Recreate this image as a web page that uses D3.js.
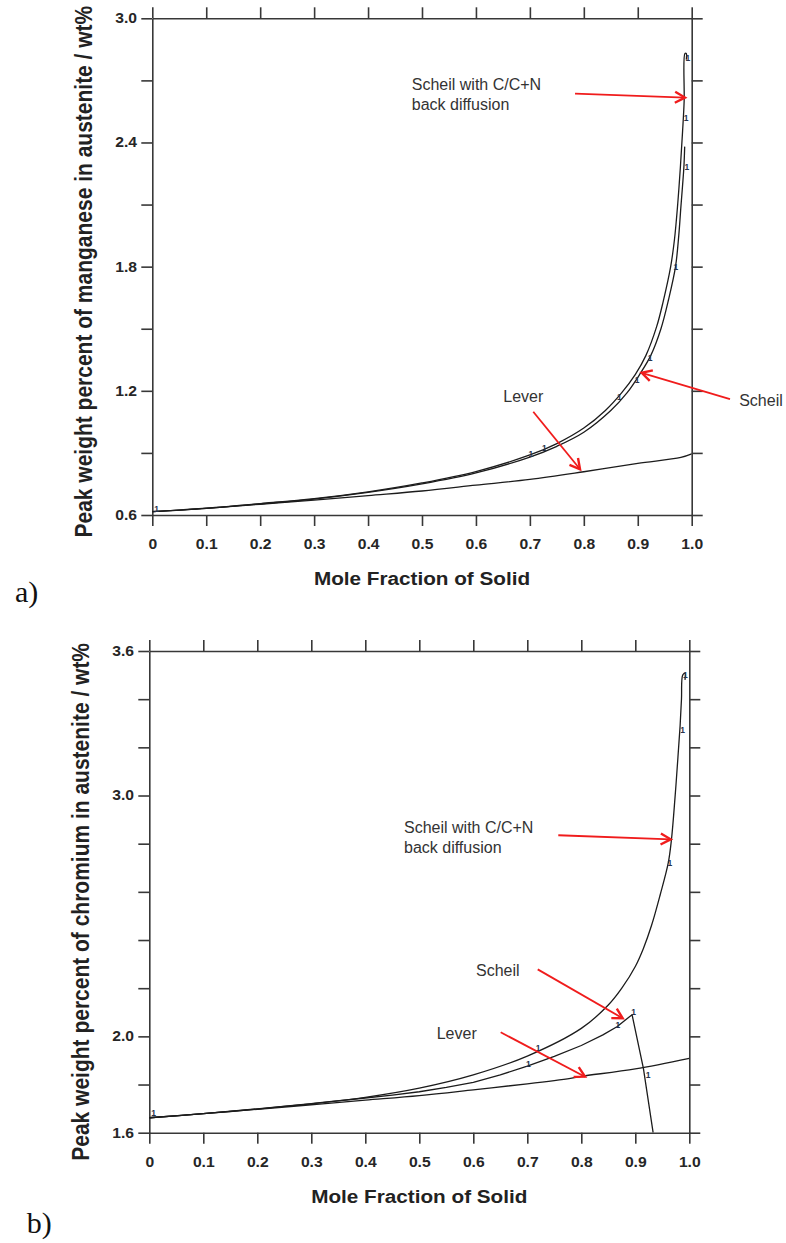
<!DOCTYPE html>
<html>
<head>
<meta charset="utf-8">
<script src="https://cdn.jsdelivr.net/npm/d3@7"></script>
<style>
  html, body { margin: 0; padding: 0; background: #fff; }
  svg { display: block; }
</style>
</head>
<body>
<svg id="fig" width="786" height="1243"></svg>
<script>
// ---- shared axis values ----
const fractionTicks = [0, 0.1, 0.2, 0.3, 0.4, 0.5, 0.6, 0.7, 0.8, 0.9, 1.0];
const fractionTickLabels = ["0", "0.1", "0.2", "0.3", "0.4", "0.5", "0.6", "0.7", "0.8", "0.9", "1.0"];

// ---- a) manganese ----
const mnTicks = [0.6, 0.9, 1.2, 1.5, 1.8, 2.1, 2.4, 2.7, 3.0];
const mnTickLabels = ["0.6", "", "1.2", "", "1.8", "", "2.4", "", "3.0"];
const mnLever = [[0, 0.616], [0.1, 0.632], [0.2, 0.652], [0.3, 0.672], [0.4, 0.694], [0.5, 0.716],
  [0.6, 0.744], [0.7, 0.772], [0.8, 0.809], [0.9, 0.849], [0.98, 0.878], [1.0, 0.895]];
const mnScheil = [[0, 0.616], [0.1, 0.632], [0.2, 0.654], [0.3, 0.677], [0.4, 0.709], [0.5, 0.75],
  [0.6, 0.803], [0.7, 0.88], [0.75, 0.932], [0.8, 1.0], [0.85, 1.105], [0.88, 1.19],
  [0.903, 1.277], [0.924, 1.37], [0.943, 1.50], [0.957, 1.64], [0.970, 1.80], [0.976, 1.95],
  [0.980, 2.09], [0.983, 2.19], [0.9855, 2.28], [0.987, 2.38]];
const mnScheilBack = [[0, 0.616], [0.1, 0.633], [0.2, 0.655], [0.3, 0.679], [0.4, 0.712], [0.5, 0.755],
  [0.6, 0.81], [0.7, 0.89], [0.75, 0.945], [0.8, 1.02], [0.84, 1.105], [0.87, 1.19],
  [0.895, 1.277], [0.915, 1.37], [0.935, 1.51], [0.947, 1.63], [0.961, 1.80], [0.968, 1.93],
  [0.974, 2.10], [0.979, 2.28], [0.983, 2.45], [0.986, 2.60], [0.9875, 2.83], [0.990, 2.83], [0.990, 2.80]];
const mnStepMarks = [[0.006, 0.628], [0.70, 0.897], [0.725, 0.925], [0.864, 1.17], [0.897, 1.25],
  [0.921, 1.36], [0.969, 1.80], [0.989, 2.28], [0.988, 2.52], [0.991, 2.81]];

// ---- b) chromium ----
const crTicks = [1.6, 1.8, 2.0, 2.2, 2.4, 2.6, 2.8, 3.0, 3.2, 3.4, 3.6];
const crTickLabels = ["1.6", "", "2.0", "", "", "", "", "3.0", "", "", "3.6"];
const crLever = [[0, 1.662], [0.1, 1.679], [0.2, 1.697], [0.3, 1.716], [0.4, 1.735], [0.5, 1.754],
  [0.6, 1.778], [0.7, 1.803], [0.78, 1.826], [0.8, 1.834], [0.9, 1.865], [1.0, 1.909]];
const crScheil = [[0, 1.662], [0.05, 1.670], [0.1, 1.679], [0.15, 1.688], [0.2, 1.698], [0.25, 1.709],
  [0.3, 1.72], [0.35, 1.732], [0.4, 1.744], [0.45, 1.756], [0.5, 1.77], [0.55, 1.788], [0.6, 1.809],
  [0.65, 1.84], [0.7, 1.876], [0.75, 1.917], [0.8, 1.962], [0.84, 2.006], [0.866, 2.04], [0.894, 2.09],
  [0.915, 1.867], [0.933, 1.6]];
const crScheilBack = [[0, 1.662], [0.1, 1.679], [0.2, 1.699], [0.3, 1.721], [0.4, 1.747], [0.5, 1.785],
  [0.6, 1.84], [0.7, 1.918], [0.8, 2.033], [0.85, 2.13], [0.875, 2.20], [0.9, 2.29], [0.915, 2.365],
  [0.93, 2.46], [0.946, 2.587], [0.961, 2.72], [0.967, 2.818], [0.9735, 2.99], [0.979, 3.16],
  [0.983, 3.29], [0.9855, 3.40], [0.9878, 3.50], [0.992, 3.507], [0.992, 3.48]];
const crStepMarks = [[0.006, 1.68], [0.70, 1.885], [0.718, 1.95], [0.866, 2.045], [0.895, 2.10],
  [0.922, 1.84], [0.962, 2.72], [0.986, 3.27], [0.991, 3.50]];

const yTitleMn = "Peak weight percent of manganese in austenite / wt%";
const yTitleCr = "Peak weight percent of chromium in austenite / wt%";
const xTitle = "Mole Fraction of Solid";

const svg = d3.select("#fig");
svg.append("rect").attr("width", 786).attr("height", 1243).attr("fill", "#fff");

const defs = svg.append("defs");
defs.append("marker")
  .attr("id", "redHead")
  .attr("viewBox", "-13 -8 16 16")
  .attr("markerUnits", "userSpaceOnUse")
  .attr("markerWidth", 16).attr("markerHeight", 16)
  .attr("refX", 0).attr("refY", 0)
  .attr("orient", "auto")
  .append("path")
  .attr("d", "M-10,-5.5 L0,0 L-10,5.5")
  .attr("fill", "none").attr("stroke", "#f01c1c")
  .attr("stroke-width", 2.4).attr("stroke-linejoin", "miter");

const SX = 1.12;            // horizontal stretch of the plot lettering
const AXIS_COL = "#383838";
const SANS = "'Liberation Sans', Arial, Helvetica, sans-serif";

function labelFor(values, labels) {
  return d => {
    const i = values.findIndex(v => Math.abs(v - d) < 1e-9);
    return i < 0 ? "" : labels[i];
  };
}

function drawChart(cfg) {
  const g = svg.append("g");
  const x = d3.scaleLinear().domain([0, 1]).range([cfg.left, cfg.right]);
  const y = d3.scaleLinear().domain([cfg.yTicks[0], cfg.yTicks[cfg.yTicks.length - 1]])
    .range([cfg.bottom, cfg.top]);

  const styleAxis = sel => {
    sel.selectAll(".domain").attr("stroke", AXIS_COL).attr("stroke-width", 1.6);
    sel.selectAll(".tick line").attr("stroke", AXIS_COL).attr("stroke-width", 1.6);
    sel.attr("font-family", SANS).attr("font-size", 14).attr("font-weight", "bold");
    sel.selectAll("text").attr("fill", "#262626").attr("transform", `scale(${SX},1)`);
  };

  g.append("g").attr("transform", `translate(0,${cfg.bottom})`)
    .call(d3.axisBottom(x).tickValues(fractionTicks)
      .tickFormat(labelFor(fractionTicks, fractionTickLabels))
      .tickSize(11).tickSizeOuter(0).tickPadding(13))
    .call(styleAxis);
  g.append("g").attr("transform", `translate(0,${cfg.top})`)
    .call(d3.axisTop(x).tickValues(fractionTicks).tickFormat(() => "")
      .tickSize(11).tickSizeOuter(0))
    .call(styleAxis);
  g.append("g").attr("transform", `translate(${cfg.left},0)`)
    .call(d3.axisLeft(y).tickValues(cfg.yTicks)
      .tickFormat(labelFor(cfg.yTicks, cfg.yTickLabels))
      .tickSize(11).tickSizeOuter(0).tickPadding(2.7))
    .call(styleAxis);
  g.append("g").attr("transform", `translate(${cfg.right},0)`)
    .call(d3.axisRight(y).tickValues(cfg.yTicks).tickFormat(() => "")
      .tickSize(11).tickSizeOuter(0))
    .call(styleAxis);

  // axis titles
  g.append("text")
    .attr("transform", `translate(${(cfg.left + cfg.right) / 2},${cfg.bottom + 70}) scale(${SX},1)`)
    .attr("text-anchor", "middle")
    .attr("font-family", SANS).attr("font-weight", "bold").attr("font-size", 18.5)
    .attr("fill", "#222").text(xTitle);
  g.append("text")
    .attr("transform", `translate(${cfg.left - 60},${(cfg.top + cfg.bottom) / 2 + cfg.yTitleShift}) scale(${SX},1) rotate(-90)`)
    .attr("text-anchor", "middle")
    .attr("font-family", SANS).attr("font-weight", "bold").attr("font-size", 21)
    .attr("fill", "#222").text(cfg.yTitle);

  // curves
  const clipId = "clip-" + cfg.id;
  defs.append("clipPath").attr("id", clipId).append("rect")
    .attr("x", cfg.left).attr("y", cfg.top)
    .attr("width", cfg.right - cfg.left).attr("height", cfg.bottom - cfg.top);
  const plot = g.append("g").attr("clip-path", `url(#${clipId})`);
  cfg.series.forEach(s => {
    const line = d3.line().x(d => x(d[0])).y(d => y(d[1]))
      .curve(s.sharp ? d3.curveLinear : d3.curveCatmullRom.alpha(0.5));
    plot.append("path").datum(s.data)
      .attr("d", line)
      .attr("fill", "none").attr("stroke", "#1c1c1c")
      .attr("stroke-width", 1.3).attr("stroke-linejoin", "round");
  });

  // small step labels along the calculated curves
  g.selectAll(null).data(cfg.marks).join("text")
    .attr("x", d => x(d[0]) + 1).attr("y", d => y(d[1]))
    .attr("dy", "0.35em").attr("text-anchor", "middle")
    .attr("font-family", SANS).attr("font-size", 8.5).attr("font-weight", "bold")
    .attr("fill", "#26324a").text("1");

  // annotations with red arrows
  cfg.notes.forEach(n => {
    const t = g.append("text")
      .attr("x", x(n.at[0])).attr("y", y(n.at[1]))
      .attr("font-family", SANS).attr("font-size", 16).attr("fill", "#333");
    n.lines.forEach((ln, i) => {
      t.append("tspan").attr("x", x(n.at[0])).attr("dy", i === 0 ? 0 : 20).text(ln);
    });
    g.append("line")
      .attr("x1", x(n.from[0])).attr("y1", y(n.from[1]))
      .attr("x2", x(n.to[0])).attr("y2", y(n.to[1]))
      .attr("stroke", "#f01c1c").attr("stroke-width", 1.8)
      .attr("marker-end", "url(#redHead)");
  });

  // panel letter
  svg.append("text")
    .attr("x", cfg.letterPos[0]).attr("y", cfg.letterPos[1])
    .attr("font-family", "'Liberation Serif', 'Times New Roman', serif")
    .attr("font-size", 30).attr("fill", "#111").text(cfg.letter);
}

drawChart({
  id: "mn", left: 152.3, right: 691.7, top: 18.3, bottom: 515,
  yTicks: mnTicks, yTickLabels: mnTickLabels, yTitle: yTitleMn, yTitleShift: 5,
  series: [{ data: mnLever }, { data: mnScheil }, { data: mnScheilBack }],
  marks: mnStepMarks,
  notes: [
    { lines: ["Scheil with C/C+N", "back diffusion"], at: [0.481, 2.652], from: [0.7837, 2.636], to: [0.9876, 2.617] },
    { lines: ["Lever"], at: [0.6507, 1.146], from: [0.7063, 1.099], to: [0.793, 0.821] },
    { lines: ["Scheil"], at: [1.088, 1.129], from: [1.071, 1.160], to: [0.9073, 1.287] }
  ],
  letter: "a)", letterPos: [15, 602]
});

drawChart({
  id: "cr", left: 149.3, right: 689.3, top: 651, bottom: 1132.7,
  yTicks: crTicks, yTickLabels: crTickLabels, yTitle: yTitleCr, yTitleShift: 10,
  series: [{ data: crLever }, { data: crScheil, sharp: true }, { data: crScheilBack }],
  marks: crStepMarks,
  notes: [
    { lines: ["Scheil with C/C+N", "back diffusion"], at: [0.4717, 2.844], from: [0.7574, 2.835], to: [0.9656, 2.818] },
    { lines: ["Scheil"], at: [0.605, 2.2506], from: [0.7193, 2.278], to: [0.8767, 2.075] },
    { lines: ["Lever"], at: [0.5322, 1.987], from: [0.6507, 2.017], to: [0.8069, 1.8325] }
  ],
  letter: "b)", letterPos: [26.7, 1233]
});
</script>
</body>
</html>
